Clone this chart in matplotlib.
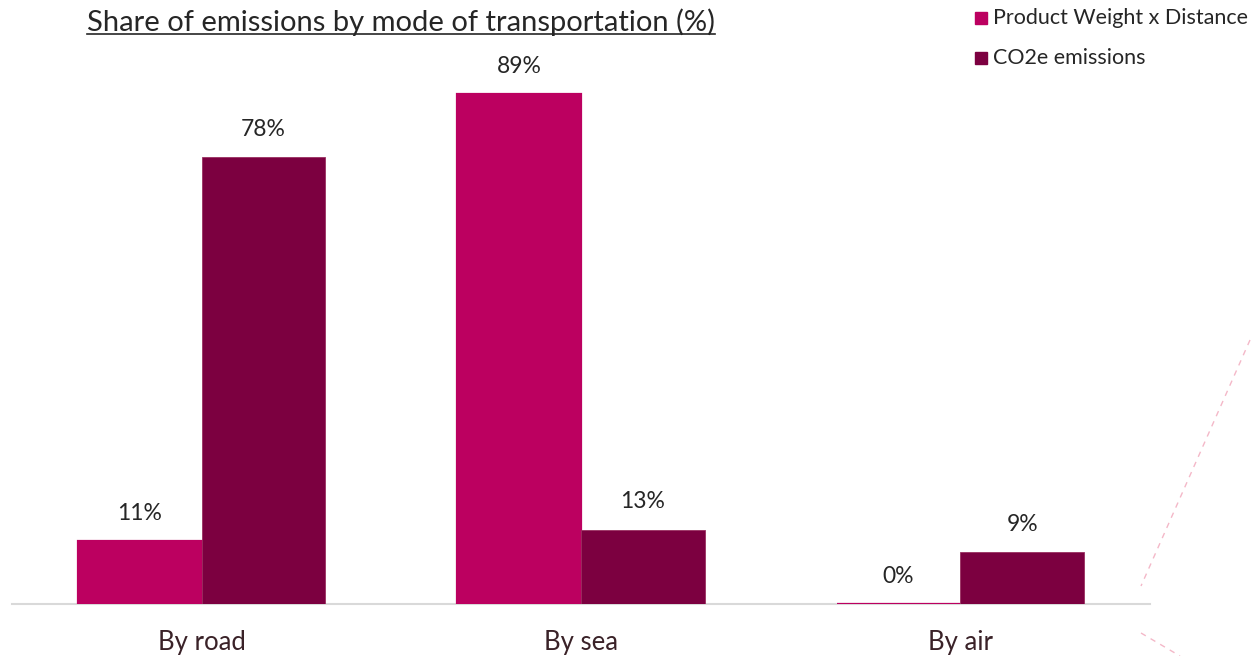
import numpy as np
import matplotlib.pyplot as plt
from matplotlib.lines import Line2D

categories = ['By road', 'By sea', 'By air']
weight_distance = [11, 89, 0]
co2_emissions = [78, 13, 9]
series_names = ['Product Weight x Distance', 'CO2e emissions']
title = 'Share of emissions by mode of transportation (%)'

pink = '#BC0060'
wine = '#7C0040'
text_col = '#262626'

plt.rcParams['font.family'] = ['Lato', 'DejaVu Sans']

fig = plt.figure(figsize=(12.53, 6.56), dpi=100)
ax = fig.add_axes([12 / 1253, 52 / 656, 1138 / 1253, 573 / 656])

x = np.arange(len(categories))
w = 0.326
b1 = ax.bar(x - w / 2, weight_distance, w, color=pink, edgecolor=pink, linewidth=1.6, zorder=3)
b2 = ax.bar(x + w / 2, co2_emissions, w, color=wine, edgecolor='#9a3060', linewidth=0.6, zorder=3)

for bars, vals in [(b1, weight_distance), (b2, co2_emissions)]:
    for r, v in zip(bars, vals):
        ax.text(r.get_x() + r.get_width() / 2, v + 3.0, f'{v}%', ha='center', va='bottom',
                fontsize=16.5, color=text_col)

ax.set_xlim(-0.5, 2.5)
ax.set_ylim(0, 100)
ax.set_xticks(x)
ax.set_xticklabels(categories, fontsize=18.5, color='#3a2228')
ax.tick_params(axis='x', length=0, pad=19)
ax.set_yticks([])
for s in ['top', 'right', 'left']:
    ax.spines[s].set_visible(False)
ax.spines['bottom'].set_color('#d9d9d9')
ax.spines['bottom'].set_linewidth(1.5)
ax.spines['bottom'].set_zorder(1)

# underlined title
t = fig.text(87 / 1253, 1 - 22 / 656, title, ha='left', va='center', fontsize=21, color=text_col)
fig.canvas.draw()
bb = t.get_window_extent().transformed(fig.transFigure.inverted())
fig.add_artist(Line2D([bb.x0, bb.x1], [bb.y0 + 0.002, bb.y0 + 0.002], color=text_col, lw=1.2,
                      transform=fig.transFigure))

# legend
for i, (name, col) in enumerate(zip(series_names, [pink, wine])):
    yy = 1 - (18 + 40 * i) / 656
    fig.patches.append(plt.Rectangle((975 / 1253, yy - 6 / 656), 12 / 1253, 12 / 656,
                                     color=col, transform=fig.transFigure))
    fig.text(993 / 1253, yy, name, ha='left', va='center', fontsize=15.5, color=text_col)

# faint dashed connector lines on the right
fig.add_artist(Line2D([1250 / 1253, 1141 / 1253], [1 - 340 / 656, 1 - 586 / 656],
                      color='#f4b8c8', lw=1, ls=(0, (4, 4)), transform=fig.transFigure))
fig.add_artist(Line2D([1141 / 1253, 1180 / 1253], [1 - 633 / 656, 1 - 656 / 656],
                      color='#f4b8c8', lw=1, ls=(0, (4, 4)), transform=fig.transFigure))

fig.savefig('out.png', dpi=100)
